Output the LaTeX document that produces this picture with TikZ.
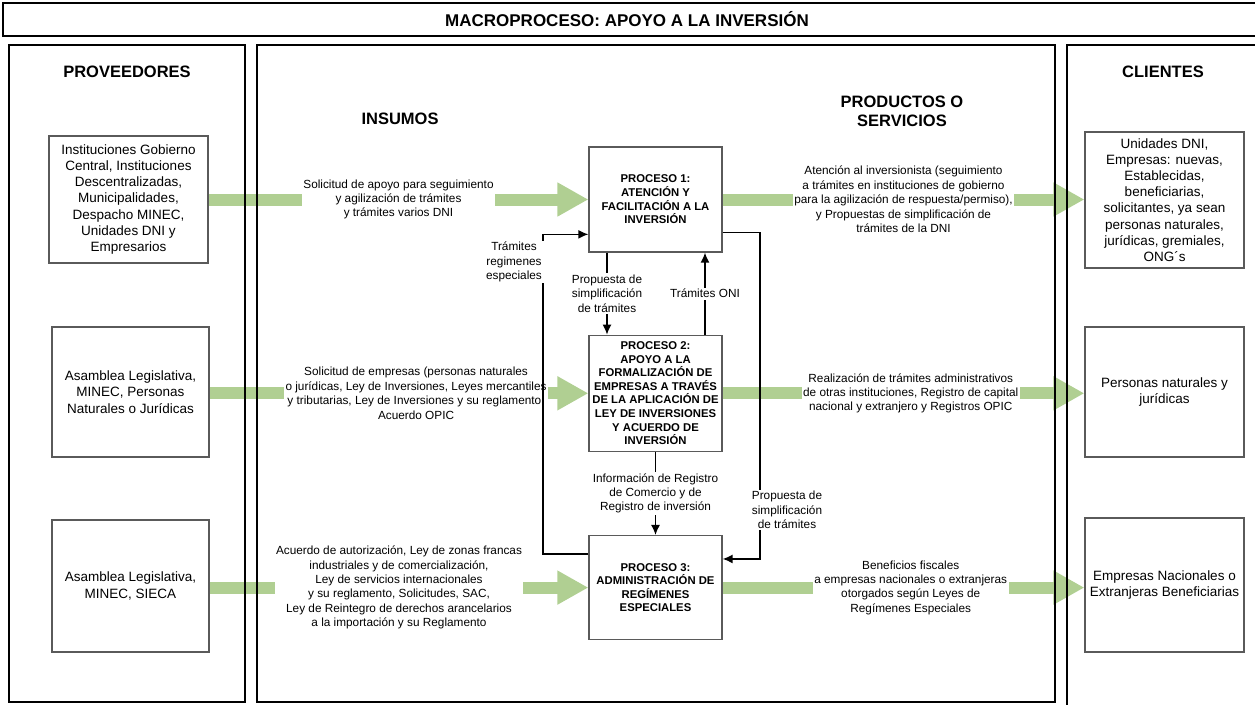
\documentclass[tikz,border=0pt]{standalone}
\usepackage{fontspec}
\setmainfont{Liberation Sans}
\usetikzlibrary{positioning, arrows.meta, backgrounds}
\definecolor{flowgreen}{RGB}{176,207,146}
\definecolor{boxgray}{RGB}{90,90,90}

\begin{document}
\begin{tikzpicture}[x=1pt, y=-1pt, >={Latex[length=10pt, width=9pt]},
    frame/.style={draw, line width=2.4pt},
    partybox/.style={draw=boxgray, line width=1.3pt, rectangle, align=center, inner sep=2pt, font=\fontsize{13.5}{16.2}\selectfont},
    procbox/.style={draw=boxgray, line width=1.3pt, rectangle, align=center, minimum width=133pt, inner sep=1pt, font=\bfseries\fontsize{11.3}{13.6}\selectfont},
    header/.style={align=center, font=\bfseries\fontsize{16.5}{19}\selectfont},
    lbl/.style={align=center, fill=white, inner sep=1.5pt, font=\fontsize{11.8}{14.4}\selectfont},
    flow/.style={->, line width=1.4pt},
    bigflow/.style={draw=flowgreen, line width=12pt, -{Triangle[length=31pt, width=32pt]}}]
            \useasboundingbox (0,0) rectangle (1255,704);

            % Frames
            \draw[frame] (3,3) rectangle (1262,36);
            \draw[frame] (9,45) rectangle (245,702);
            \draw[frame] (257,45) rectangle (1055,702);
            \draw[frame] (1067,45) rectangle (1262,712);

            % Headers
            \node[header, font=\bfseries\fontsize{17}{20}\selectfont] (title) at (627,19.5) {MACROPROCESO: APOYO A LA INVERSIÓN};
            \node[header] (hprov) at (127,72) {PROVEEDORES};
            \node[header] (hins) at (400,119) {INSUMOS};
            \node[header] (hprod) at (902,111) {PRODUCTOS O\\SERVICIOS};
            \node[header] (hcli) at (1163,72) {CLIENTES};

            % Proveedores
            \node[partybox, minimum width=159pt, minimum height=127pt] (inst) at (128.5,199.5) {Instituciones Gobierno\\Central, Instituciones\\Descentralizadas,\\Municipalidades,\\Despacho MINEC,\\Unidades DNI y\\Empresarios};
            \node[partybox, minimum width=157pt, minimum height=130pt] (asamb) at (130.5,392) {Asamblea Legislativa,\\MINEC, Personas\\Naturales o Jurídicas};
            \node[partybox, minimum width=157pt, minimum height=132pt] (sieca) at (130.5,586) {Asamblea Legislativa,\\MINEC, SIECA};

            % Procesos
            \node[procbox, minimum height=105pt] (p1) at (655.5,199.5) {PROCESO 1:\\ATENCIÓN Y\\FACILITACIÓN A LA\\INVERSIÓN};
            \node[procbox, minimum height=116pt, below=82pt of p1] (p2) {PROCESO 2:\\APOYO A LA\\FORMALIZACIÓN DE\\EMPRESAS A TRAVÉS\\DE LA APLICACIÓN DE\\LEY DE INVERSIONES\\Y ACUERDO DE\\INVERSIÓN};
            \node[procbox, minimum height=104pt, below=83pt of p2] (p3) {PROCESO 3:\\ADMINISTRACIÓN DE\\REGÍMENES\\ESPECIALES};

            % Clientes
            \node[partybox, minimum width=159pt, minimum height=136pt] (unid) at (1164.5,200) {Unidades DNI,\\Empresas: nuevas,\\Establecidas,\\beneficiarias,\\solicitantes, ya sean\\personas naturales,\\jurídicas, gremiales,\\ONG´s};
            \node[partybox, minimum width=159pt, minimum height=130pt] (pers) at (1164.5,392) {Personas naturales y\\jurídicas};
            \node[partybox, minimum width=159pt, minimum height=134pt] (empr) at (1164.5,585) {Empresas Nacionales o\\Extranjeras Beneficiarias};

            % Green flows
            \begin{scope}[on background layer]
            \draw[bigflow] (inst.east) -- node[lbl] (in1) {Solicitud de apoyo para seguimiento\\y agilización de trámites\\y trámites varios DNI} (p1.west);
            \draw[bigflow] (p1.east) -- node[lbl] (out1) {Atención al inversionista (seguimiento\\a trámites en instituciones de gobierno\\para la agilización de respuesta/permiso),\\y Propuestas de simplificación de\\trámites de la DNI} (unid.west |- p1.east);
            \draw[bigflow] (asamb.east |- p2.west) -- node[lbl, pos=0.545] (in2) {Solicitud de empresas (personas naturales\\o jurídicas, Ley de Inversiones, Leyes mercantiles\\y tributarias, Ley de Inversiones y su reglamento,\\Acuerdo OPIC} (p2.west);
            \draw[bigflow] (p2.east) -- node[lbl, pos=0.52] (out2) {Realización de trámites administrativos\\de otras instituciones, Registro de capital\\nacional y extranjero y Registros OPIC} (pers.west |- p2.east);
            \draw[bigflow] (sieca.east |- p3.west) -- node[lbl] (in3) {Acuerdo de autorización, Ley de zonas francas\\industriales y de comercialización,\\Ley de servicios internacionales\\y su reglamento, Solicitudes, SAC,\\Ley de Reintegro de derechos arancelarios\\a la importación y su Reglamento} (p3.west);
            \draw[bigflow] (p3.east) -- node[lbl, pos=0.52] (out3) {Beneficios fiscales\\a empresas nacionales o extranjeras\\otorgados según Leyes de\\Regímenes Especiales} (empr.west |- p3.east);
            \end{scope}

            % Links between processes
            \draw[flow] ([xshift=-48.5pt]p1.south) -- node[lbl] (prop1) {Propuesta de\\simplificación\\de trámites} ([xshift=-48.5pt]p2.north);
            \draw[flow] ([xshift=49.5pt]p2.north) -- node[lbl] (oni) {Trámites ONI} ([xshift=49.5pt]p1.south);
            \draw[flow] (p2.south) -- node[lbl] (info) {Información de Registro\\de Comercio y de\\Registro de inversión} (p3.north);

            % Loops
            \coordinate (regturn) at (543,400);
            \draw[flow] ([yshift=-19pt]p3.north west) -| (regturn) |- ([yshift=-88pt]p1.north west);
            \node[lbl, minimum width=64pt] (regl) at (514,262) {Trámites\\regimenes\\especiales};
            \coordinate (propturn) at (760,400);
            \draw[flow] ([yshift=-86pt]p1.north east) -| (propturn) |- ([yshift=-24pt]p3.north east);
            \node[lbl] (prop2) at (787,510) {Propuesta de\\simplificación\\de trámites};
        \end{tikzpicture}
\end{document}
